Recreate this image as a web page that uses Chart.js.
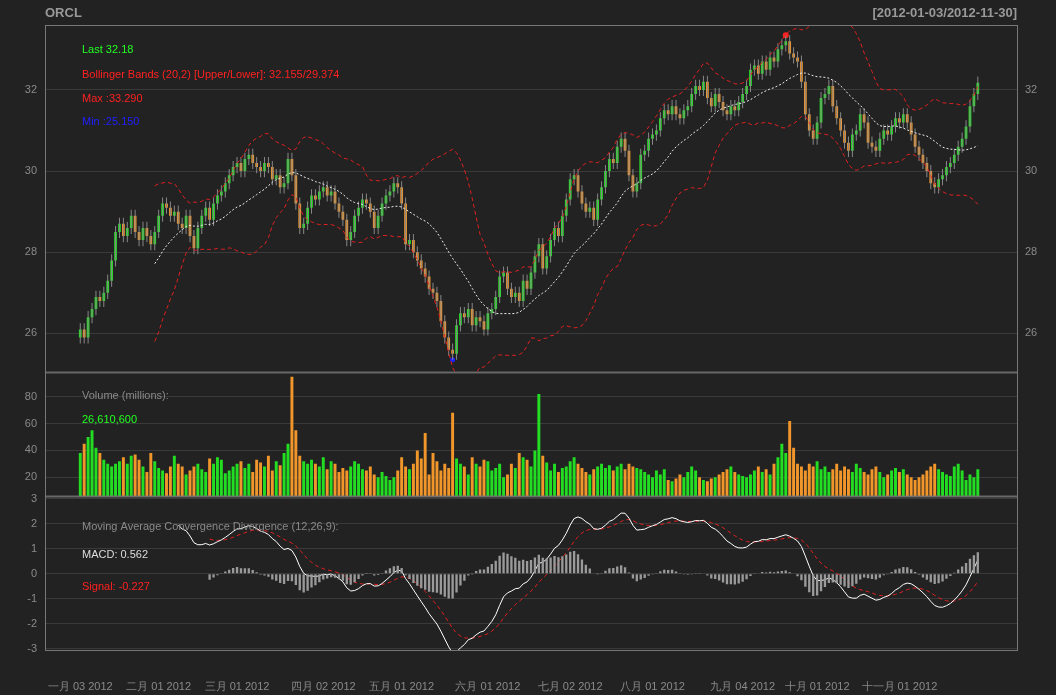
<!DOCTYPE html>
<html><head><meta charset="utf-8">
<script src="https://cdn.jsdelivr.net/npm/chart.js@4"></script>
<style>
body{margin:0;background:#222;width:1056px;height:695px;overflow:hidden;font-family:"Liberation Sans",sans-serif}
canvas{position:absolute;left:0}
</style></head><body>
<canvas id="c1" style="top:0" width="1056" height="387"></canvas>
<canvas id="c2" style="top:357px" width="1056" height="154"></canvas>
<canvas id="c3" style="top:481px" width="1056" height="214"></canvas>
<script>
const tickIdx = [0, 20, 40, 62, 82, 104, 125, 146, 169, 188, 209];
const tickLabels = ['一月 03 2012','二月 01 2012','三月 01 2012','四月 02 2012','五月 01 2012','六月 01 2012','七月 02 2012','八月 01 2012','九月 04 2012','十月 01 2012','十一月 01 2012'];
const closes = [
26.1,25.9,26.4,26.6,26.9,26.8,27.0,27.3,27.8,28.5,
28.7,28.4,28.6,28.9,28.5,28.3,28.6,28.4,28.2,28.5,
28.9,29.2,29.1,28.9,29.0,28.7,28.6,28.9,28.4,28.1,
28.6,28.9,29.1,28.8,29.2,29.4,29.5,29.7,29.9,30.1,
30.2,30.0,30.3,30.4,30.2,30.1,30.0,30.2,30.1,29.8,
29.9,29.6,29.7,30.3,29.9,29.2,28.6,28.7,29.1,29.4,
29.3,29.5,29.6,29.4,29.5,29.2,29.0,28.8,28.3,28.5,
28.9,29.1,29.3,29.2,29.0,28.6,28.9,29.2,29.4,29.5,
29.7,29.6,29.2,28.2,28.3,28.0,27.8,27.6,27.4,27.1,
27.0,26.8,26.3,25.9,25.6,25.5,26.2,26.5,26.4,26.6,
26.2,26.4,26.3,26.1,26.5,26.6,26.9,27.4,27.5,27.1,
26.9,27.0,26.8,27.3,27.1,27.5,27.9,28.2,27.6,27.9,
28.3,28.6,28.4,28.9,29.3,29.8,29.9,29.5,29.2,29.0,
29.1,28.8,29.3,29.6,30.0,30.3,30.2,30.6,30.8,30.5,
29.9,29.5,29.7,30.4,30.5,30.8,30.9,31.0,31.3,31.5,
31.4,31.6,31.4,31.3,31.5,31.6,31.9,32.1,32.0,32.2,
31.8,31.6,31.9,31.7,31.5,31.4,31.6,31.5,31.7,31.9,
32.1,32.5,32.6,32.4,32.7,32.5,32.8,32.7,33.0,33.1,
33.2,32.9,32.8,32.7,32.2,31.4,31.0,30.8,31.2,31.8,
31.9,32.1,31.6,31.3,31.0,30.7,30.5,30.9,31.0,31.4,
31.2,30.7,30.6,30.5,30.8,31.0,30.9,31.1,31.3,31.2,
31.4,31.2,30.9,30.6,30.4,30.2,30.0,29.7,29.6,29.8,
29.9,30.1,30.2,30.4,30.6,30.8,31.1,31.6,31.9,32.18];
const volumes = [
38,45,50,55,42,38,33,30,28,30, 32,35,30,36,37,33,28,24,38,32,
27,25,23,28,36,30,28,22,25,28, 30,26,24,34,30,35,33,23,25,28,
30,32,27,30,24,33,31,28,36,25, 32,29,38,45,95,55,36,32,30,33,
30,28,35,26,32,30,24,27,25,28, 32,30,26,25,28,22,20,24,21,18,
20,25,35,28,26,30,40,34,53,22, 38,32,25,30,27,68,34,30,28,22,
35,30,28,33,32,25,27,30,20,22, 30,27,38,35,33,28,40,82,36,31,
25,30,24,27,28,32,35,30,27,24, 22,26,28,30,27,29,25,28,30,26,
30,28,27,26,24,22,20,25,22,26, 18,17,19,22,20,24,28,25,20,18,
17,19,20,22,24,26,28,24,22,21, 20,22,25,28,24,26,22,30,35,45,
38,62,42,30,28,25,30,28,32,26, 28,24,26,30,25,28,26,24,30,27,
24,22,26,28,24,20,22,25,27,24, 26,22,20,18,20,22,25,28,30,26,
24,22,21,28,30,25,18,22,20,26];

const GREEN = '#22dd22', ORANGE = '#f0962a', GREY = '#999999';
const N = closes.length;
const opens = closes.map((c, i) => i ? closes[i - 1] : c - 0.2);
const cols = closes.map((c, i) => Math.abs(c - opens[i]) < 0.05 ? GREY : c > opens[i] ? GREEN : ORANGE);
const highs = closes.map((c, i) => Math.max(c, opens[i]) + 0.15);
const lows = closes.map((c, i) => Math.min(c, opens[i]) - 0.15);

// bollinger 20,2
const sma = [], up = [], dn = [];
for (let i = 0; i < N; i++) {
  if (i < 19) { sma.push(null); up.push(null); dn.push(null); continue; }
  const w = closes.slice(i - 19, i + 1), m = w.reduce((a, b) => a + b) / 20;
  const sd = Math.sqrt(w.reduce((a, b) => a + (b - m) ** 2, 0) / 20);
  sma.push(m); up.push(m + 2 * sd); dn.push(m - 2 * sd);
}
// MACD 12,26,9 percent
function ema(arr, n) { const k = 2 / (n + 1); let e = null; return arr.map(v => { if (v == null) return null; e = e == null ? v : v * k + e * (1 - k); return e; }); }
const e12 = ema(closes, 12), e26 = ema(closes, 26);
const macdRaw = closes.map((_, i) => 100 * (e12[i] / e26[i] - 1));
const macd = macdRaw.map((v, i) => i < 25 ? null : v);
const sig = ema(macd, 9).map((v, i) => i < 33 ? null : v);
const hist = macd.map((v, i) => sig[i] == null ? null : v - sig[i]);

const pts = a => a.map((y, i) => ({x: i, y}));
const FF = '"Liberation Sans", Arial, sans-serif';
const FONT = {family: FF, size: 11};
const TXT = '#8a8a8a';

function frame(texts) {
  return { id: 'frame', afterDraw(ch) {
    const c = ch.ctx, a = ch.chartArea;
    c.save(); c.strokeStyle = '#777'; c.lineWidth = 1;
    c.strokeRect(a.left + 0.5, a.top + 0.5, a.right - a.left, a.bottom - a.top);
    c.textBaseline = 'middle';
    texts.forEach(t => { c.fillStyle = t[3]; c.font = t[4] || '11px ' + FF; c.textAlign = t[5] || 'left'; c.fillText(t[0], t[1], t[2]); });
    c.restore();
  }};
}
function xScale(show) {
  return { type: 'linear', min: -9, max: 239, display: show, offset: false,
    afterBuildTicks: s => { s.ticks = tickIdx.map(v => ({value: v})); },
    ticks: { color: TXT, font: FONT, padding: 22, maxRotation: 0, autoSkip: false, callback: (v) => tickLabels[tickIdx.indexOf(v)] },
    grid: { display: false }, border: {display: false} };
}
function yScale(min, max, ticks, pos) {
  return { position: pos || 'left', min, max,
    afterBuildTicks: s => { s.ticks = ticks.map(v => ({value: v})); },
    afterFit: s => { s.width = pos === 'right' ? 39 : 45; },
    ticks: { color: TXT, font: FONT, padding: 8 },
    grid: { color: pos === 'right' ? 'transparent' : '#3a3a3a', borderDash: [3, 3], drawTicks: false },
    border: { display: false } };
}
const base = { responsive: false, animation: false, plugins: { legend: {display: false}, tooltip: {enabled: false} } };

const imax = highs.indexOf(Math.max(...highs)), imin = lows.indexOf(Math.min(...lows));
new Chart(document.getElementById('c1'), {
  type: 'bar',
  data: { datasets: [
    { type: 'line', data: pts(up), borderColor: '#e02020', borderWidth: 1, borderDash: [4, 3], pointRadius: 0 },
    { type: 'line', data: pts(dn), borderColor: '#e02020', borderWidth: 1, borderDash: [4, 3], pointRadius: 0 },
    { type: 'line', data: pts(sma), borderColor: '#eeeeee', borderWidth: 1, borderDash: [2, 2], pointRadius: 0 },
    { data: closes.map((c, i) => ({x: i, y: [lows[i], highs[i]]})), backgroundColor: '#888', grouped: false, maxBarThickness: 1 },
    { data: closes.map((c, i) => ({x: i, y: [Math.min(c, opens[i]), Math.max(c, opens[i]) + (Math.abs(c - opens[i]) < 0.03 ? 0.03 : 0)]})), backgroundColor: cols, grouped: false, barPercentage: 0.7, categoryPercentage: 1 },
    { type: 'scatter', data: [{x: imax, y: highs[imax]}], pointBackgroundColor: '#ff2020', pointBorderWidth: 0, pointRadius: 3 },
    { type: 'scatter', data: [{x: imin, y: lows[imin]}], pointBackgroundColor: '#2020ff', pointBorderWidth: 0, pointRadius: 2.5 }
  ]},
  options: { ...base, layout: { padding: {top: 25, bottom: 0, left: 0, right: 0} },
    scales: { x: xScale(false), y: yScale(25.04, 33.6, [26, 28, 30, 32]), y2: yScale(25.04, 33.6, [26, 28, 30, 32], 'right') } },
  plugins: [frame([
    ['ORCL', 45, 13, '#999', 'bold 13px ' + FF],
    ['[2012-01-03/2012-11-30]', 1017, 13, '#999', 'bold 13px ' + FF, 'right'],
    ['Last 32.18', 82, 50, '#22ff22'],
    ['Bollinger Bands (20,2) [Upper/Lower]: 32.155/29.374', 82, 75, '#ff2020'],
    ['Max :33.290', 82, 99, '#ff2020'],
    ['Min :25.150', 82, 122, '#2020ff']
  ])]
});

new Chart(document.getElementById('c2'), {
  type: 'bar',
  data: { datasets: [{ data: pts(volumes), backgroundColor: cols, barPercentage: 0.75, categoryPercentage: 1 }] },
  options: { ...base, layout: { padding: {right: 39} },
    scales: { x: xScale(false), y: yScale(5.75, 98.75, [20, 40, 60, 80]) } },
  plugins: [frame([
    ['Volume (millions):', 82, 39, '#8a8a8a'],
    ['26,610,600', 82, 63, '#22ff22']
  ])]
});

new Chart(document.getElementById('c3'), {
  type: 'bar',
  data: { datasets: [
    { data: pts(hist), backgroundColor: '#9a9a9a', barPercentage: 0.6, categoryPercentage: 1, grouped: false },
    { type: 'line', data: pts(macd), borderColor: '#ffffff', borderWidth: 1, pointRadius: 0 },
    { type: 'line', data: pts(sig), borderColor: '#e02020', borderWidth: 1, borderDash: [4, 3], pointRadius: 0 }
  ]},
  options: { ...base, layout: { padding: {right: 39, bottom: 0} },
    scales: { x: { ...xScale(true), afterFit: s => { s.height = 45; } }, y: yScale(-3.04, 3.12, [-3, -2, -1, 0, 1, 2, 3]) } },
  plugins: [frame([
    ['Moving Average Convergence Divergence (12,26,9):', 82, 46, '#8a8a8a'],
    ['MACD: 0.562', 82, 74, '#dddddd'],
    ['Signal: -0.227', 82, 106, '#ff2020']
  ])]
});
</script></body></html>
